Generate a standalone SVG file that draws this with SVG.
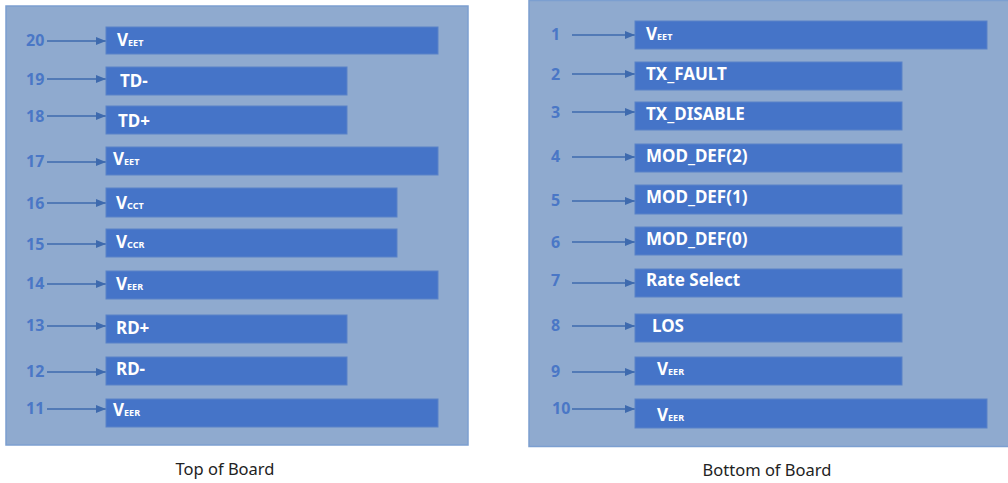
<svg xmlns="http://www.w3.org/2000/svg" width="1008" height="483" viewBox="0 0 1008 483">
<defs>
<style>
.panel{fill:#8FAACF;stroke:#7C9FD0;stroke-width:1.5}
.bar{fill:#4574C8;stroke:#5A82C8;stroke-width:1}
.num{font-family:"Noto Sans","Liberation Sans",sans-serif;font-size:16px;font-weight:700;fill:#4A77C6}
.lbl{font-family:"Noto Sans","Liberation Sans",sans-serif;font-size:17px;font-weight:700;fill:#FFFFFF}
.sub{font-size:9px}
.cap{font-family:"Noto Sans","Liberation Sans",sans-serif;font-size:16.5px;fill:#222222}
.wire{stroke:#3E6AAE;stroke-width:1.3;fill:none}
</style>
<marker id="ah" markerWidth="10" markerHeight="8" refX="10" refY="4" orient="auto" markerUnits="userSpaceOnUse">
<path d="M0,0 L10,4 L0,8 Z" fill="#3E6AAE"/>
</marker>
</defs>
<rect width="1008" height="483" fill="#FFFFFF"/>
<g id="top-board">
<rect class="panel" x="6" y="6" width="462" height="439"/>
</g>
<g id="bottom-board">
<rect class="panel" x="529" y="0.5" width="485" height="446"/>
</g>
<g id="connectors">
<line class="wire" x1="47" y1="41" x2="106" y2="41" marker-end="url(#ah)"/>
<line class="wire" x1="47" y1="79" x2="106" y2="79" marker-end="url(#ah)"/>
<line class="wire" x1="47" y1="116" x2="106" y2="116" marker-end="url(#ah)"/>
<line class="wire" x1="47" y1="162" x2="106" y2="162" marker-end="url(#ah)"/>
<line class="wire" x1="47" y1="203" x2="106" y2="203" marker-end="url(#ah)"/>
<line class="wire" x1="47" y1="244" x2="106" y2="244" marker-end="url(#ah)"/>
<line class="wire" x1="47" y1="284" x2="106" y2="284" marker-end="url(#ah)"/>
<line class="wire" x1="47" y1="326" x2="106" y2="326" marker-end="url(#ah)"/>
<line class="wire" x1="47" y1="372" x2="106" y2="372" marker-end="url(#ah)"/>
<line class="wire" x1="47" y1="409" x2="106" y2="409" marker-end="url(#ah)"/>
<line class="wire" x1="572" y1="35" x2="635" y2="35" marker-end="url(#ah)"/>
<line class="wire" x1="572" y1="74" x2="635" y2="74" marker-end="url(#ah)"/>
<line class="wire" x1="572" y1="112" x2="635" y2="112" marker-end="url(#ah)"/>
<line class="wire" x1="572" y1="157" x2="635" y2="157" marker-end="url(#ah)"/>
<line class="wire" x1="572" y1="201" x2="635" y2="201" marker-end="url(#ah)"/>
<line class="wire" x1="572" y1="242" x2="635" y2="242" marker-end="url(#ah)"/>
<line class="wire" x1="572" y1="283" x2="635" y2="283" marker-end="url(#ah)"/>
<line class="wire" x1="572" y1="326" x2="635" y2="326" marker-end="url(#ah)"/>
<line class="wire" x1="572" y1="372" x2="635" y2="372" marker-end="url(#ah)"/>
<line class="wire" x1="572" y1="409" x2="635" y2="409" marker-end="url(#ah)"/>
</g>
<g id="pin20"><text class="num" x="26" y="46">20</text><rect class="bar" x="106" y="27" width="332" height="27"/><text class="lbl" x="117" y="46">V<tspan class="sub">EET</tspan></text></g>
<g id="pin19"><text class="num" x="26" y="85">19</text><rect class="bar" x="106" y="67" width="241" height="28"/><text class="lbl" x="120" y="87">TD-</text></g>
<g id="pin18"><text class="num" x="26" y="122">18</text><rect class="bar" x="106" y="106" width="241" height="28"/><text class="lbl" x="118" y="127">TD+</text></g>
<g id="pin17"><text class="num" x="26" y="167">17</text><rect class="bar" x="106" y="147" width="332" height="28"/><text class="lbl" x="113" y="165">V<tspan class="sub">EET</tspan></text></g>
<g id="pin16"><text class="num" x="26" y="209">16</text><rect class="bar" x="106" y="188" width="291" height="29"/><text class="lbl" x="116" y="209">V<tspan class="sub">CCT</tspan></text></g>
<g id="pin15"><text class="num" x="26" y="250">15</text><rect class="bar" x="106" y="229" width="291" height="28"/><text class="lbl" x="116" y="248">V<tspan class="sub">CCR</tspan></text></g>
<g id="pin14"><text class="num" x="26" y="289">14</text><rect class="bar" x="106" y="271" width="332" height="28"/><text class="lbl" x="116" y="290">V<tspan class="sub">EER</tspan></text></g>
<g id="pin13"><text class="num" x="26" y="331">13</text><rect class="bar" x="106" y="315" width="241" height="28"/><text class="lbl" x="116" y="334">RD+</text></g>
<g id="pin12"><text class="num" x="26" y="377">12</text><rect class="bar" x="106" y="357" width="241" height="28"/><text class="lbl" x="116" y="375">RD-</text></g>
<g id="pin11"><text class="num" x="26" y="414">11</text><rect class="bar" x="106" y="399" width="332" height="28"/><text class="lbl" x="113" y="416">V<tspan class="sub">EER</tspan></text></g>
<g id="pin1"><text class="num" x="551" y="40">1</text><rect class="bar" x="635" y="21" width="352" height="28"/><text class="lbl" x="646" y="40">V<tspan class="sub">EET</tspan></text></g>
<g id="pin2"><text class="num" x="551" y="80">2</text><rect class="bar" x="635" y="62" width="267" height="28"/><text class="lbl" x="646" y="80">TX_FAULT</text></g>
<g id="pin3"><text class="num" x="551" y="118">3</text><rect class="bar" x="635" y="102" width="267" height="28"/><text class="lbl" x="646" y="120">TX_DISABLE</text></g>
<g id="pin4"><text class="num" x="551" y="162">4</text><rect class="bar" x="635" y="144" width="267" height="28"/><text class="lbl" x="646" y="162">MOD_DEF(2)</text></g>
<g id="pin5"><text class="num" x="551" y="206">5</text><rect class="bar" x="635" y="185" width="267" height="29"/><text class="lbl" x="646" y="203">MOD_DEF(1)</text></g>
<g id="pin6"><text class="num" x="551" y="248">6</text><rect class="bar" x="635" y="227" width="267" height="28"/><text class="lbl" x="646" y="245">MOD_DEF(0)</text></g>
<g id="pin7"><text class="num" x="551" y="286">7</text><rect class="bar" x="635" y="269" width="267" height="28"/><text class="lbl" x="646" y="286">Rate Select</text></g>
<g id="pin8"><text class="num" x="551" y="331">8</text><rect class="bar" x="635" y="314" width="267" height="28"/><text class="lbl" x="652" y="332">LOS</text></g>
<g id="pin9"><text class="num" x="551" y="377">9</text><rect class="bar" x="635" y="357" width="267" height="28"/><text class="lbl" x="657" y="375">V<tspan class="sub">EER</tspan></text></g>
<g id="pin10"><text class="num" x="552" y="414">10</text><rect class="bar" x="635" y="399" width="352" height="29"/><text class="lbl" x="657" y="421">V<tspan class="sub">EER</tspan></text></g>
<g id="captions">
<text class="cap" x="225" y="475" text-anchor="middle">Top of Board</text>
<text class="cap" x="767" y="476" text-anchor="middle">Bottom of Board</text>
</g>
</svg>
